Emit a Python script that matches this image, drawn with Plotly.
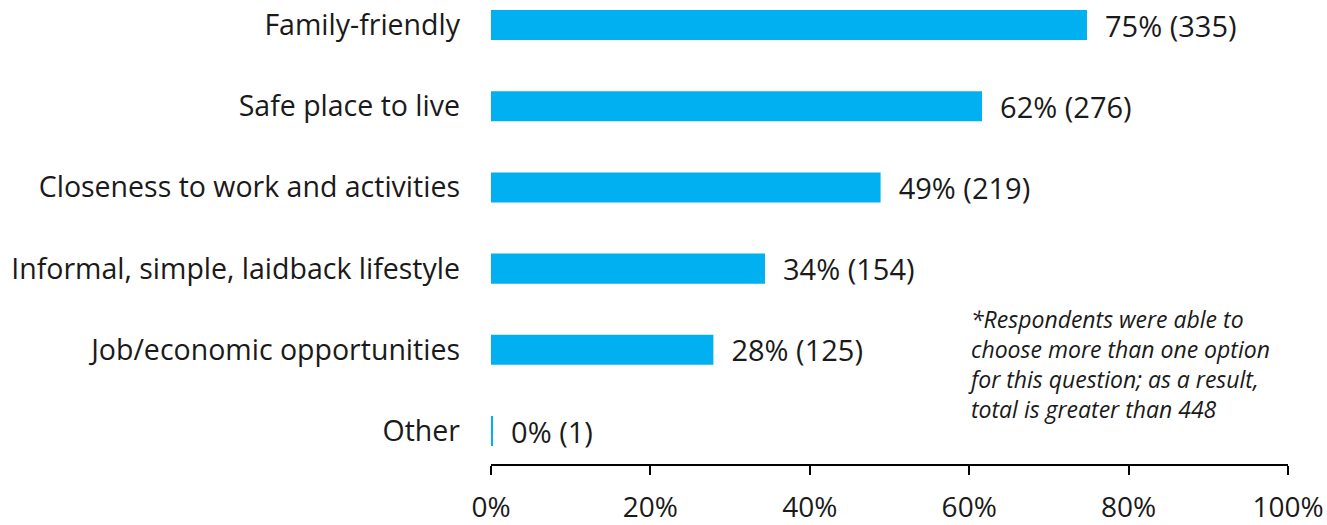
import plotly.graph_objects as go

categories = ["Family-friendly", "Safe place to live", "Closeness to work and activities",
              "Informal, simple, laidback lifestyle", "Job/economic opportunities", "Other"]
counts = [335, 276, 219, 154, 125, 1]
total = 448
percents = [c / total * 100 for c in counts]
labels = [f"{round(p)}% ({c})" for p, c in zip(percents, counts)]
tick_vals = [0, 20, 40, 60, 80, 100]
tick_text = ["0%", "20%", "40%", "60%", "80%", "100%"]
note = ("<i>*Respondents were able to<br>choose more than one option<br>"
        "for this question; as a result,<br>total is greater than 448</i>")

FONT = "Open Sans"
TXT = "#1a1a1a"

W, H = 1327, 525
L, R, T, B = 491, 39, 0, 61
plot_w = W - L - R
plot_h = H - T - B

fig = go.Figure()
fig.add_trace(go.Bar(
    y=categories, x=percents, orientation="h",
    marker=dict(color="#00B0F0", line=dict(width=0)),
    width=0.37,
    text=["  " + t for t in labels], textposition="outside",
    constraintext="none",
    textfont=dict(family=FONT, size=29, color=TXT),
    cliponaxis=False,
))
fig.update_layout(
    width=W, height=H,
    margin=dict(l=L, r=R, t=T, b=B, autoexpand=False),
    paper_bgcolor="white", plot_bgcolor="white",
    showlegend=False,
    font=dict(family=FONT, size=28, color=TXT),
    xaxis=dict(range=[0, 100], tickvals=tick_vals, ticktext=tick_text,
               showgrid=False, zeroline=False, showline=True, linecolor="black",
               linewidth=1.5, ticks="outside", tickcolor="black", ticklen=9,
               tickwidth=1.5, tickfont=dict(family=FONT, size=28, color=TXT),
               ticklabelstandoff=9, automargin=False),
    yaxis=dict(categoryorder="array", categoryarray=categories,
               range=[5.406, -0.308], showgrid=False, zeroline=False,
               showline=False, ticks="", ticklabelstandoff=30, automargin=False,
               tickfont=dict(family=FONT, size=28.5, color=TXT)),
)
fig.add_annotation(
    text=note, showarrow=False, xref="x domain", yref="y domain",
    x=(966 - L) / plot_w, y=1 - (364 - T) / plot_h,
    xanchor="left", yanchor="middle", align="left",
    font=dict(family=FONT, size=23, color=TXT),
)
fig.write_html("out.html", config={"displayModeBar": False},
               post_script="document.body.style.margin='0px';")
